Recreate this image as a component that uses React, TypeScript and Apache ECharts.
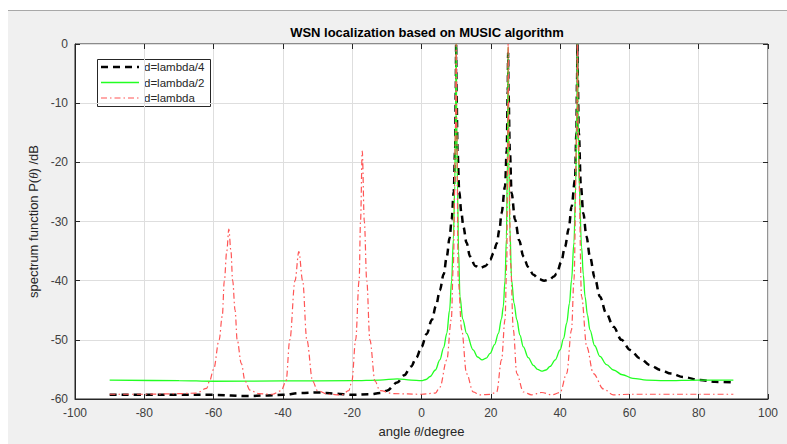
import React, { useEffect, useRef } from "react";
import * as echarts from "echarts";

const titleText = "WSN localization based on MUSIC algorithm";
const seriesNames = ["d=lambda/4", "d=lambda/2", "d=lambda"];
const seriesColors = ["#000000", "#22ff22", "#ff5555"];
const xMin = -100;
const xMax = 100;
const xStep = 20;
const yMin = -60;
const yMax = 0;
const yStep = 10;

// d = lambda/4  [angle, dB]
const lambda4: number[][] = [
  [-90, -59.3], [-80, -59.3], [-70, -59.3], [-60, -59.3], [-50, -59.5], [-45, -59.4],
  [-40, -59.3], [-35, -59.0], [-30, -58.9], [-25, -59.1], [-20, -59.3], [-15, -59.2],
  [-12, -59.0], [-10, -58.6], [-7, -57.2], [-5, -56.0], [-3, -54.5], [-1.5, -53.0],
  [0, -51.2], [1.5, -49.0], [3, -46.6], [4.2, -44.2], [5.3, -41.6], [6.4, -38.9],
  [7.3, -35.9], [8.1, -32.8], [8.7, -29.7], [9.3, -25], [9.7, -18], [9.9, -8], [10, 0],
  [10.1, -8], [10.4, -18], [10.9, -25], [11.5, -28.5], [12.1, -30.9], [13, -33.6],
  [14, -35.9], [15.5, -37.5], [16.9, -37.9], [18.5, -37.5], [19.8, -36.5], [20.8, -35.3],
  [21.7, -33.7], [22.5, -31.4], [23.1, -28.6], [24.1, -24.1], [24.6, -18], [24.9, -8],
  [25, -1.5], [25.1, -8], [25.5, -18], [26, -25.2], [27, -29.7], [28.2, -33.2],
  [29.4, -35.9], [30.8, -37.7], [32.3, -39.0], [33.8, -39.7], [35.4, -40.0], [37, -39.8],
  [38.2, -39.3], [39, -38.8], [40.3, -36.9], [41.4, -34.3], [42.5, -31.2], [43.3, -27.5],
  [44.3, -23], [44.7, -15], [44.9, -6], [45, 0], [45.1, -6], [45.4, -15], [46, -24],
  [46.7, -28.6], [47.6, -32.5], [48.6, -35.9], [50, -39.5], [51.5, -42.7], [53.3, -45.5],
  [55.4, -47.8], [57.7, -50.0], [60.2, -51.7], [63, -53.1], [66, -54.3], [69, -55.1],
  [72, -55.7], [75.6, -56.3], [80.4, -56.8], [84.7, -57.1], [90, -57.2],
];

// d = lambda/2
const lambda2: number[][] = [
  [-90, -56.8], [-70, -56.9], [-60, -57.0], [-40, -56.95], [-20, -56.9], [-12, -56.8],
  [-7, -56.6], [-3, -56.8], [0, -56.9], [1.3, -56.7], [2.5, -56.2], [4, -55.1],
  [5.3, -53.4], [6.4, -51.3], [7.3, -48.9], [8.1, -45], [8.7, -39.9], [9.2, -33],
  [9.6, -24], [9.85, -12], [10, 0], [10.15, -12], [10.4, -25], [10.7, -35], [11.1, -42.7],
  [11.9, -46.5], [13, -48.9], [14.9, -51.7], [16.2, -52.9], [17.5, -53.4], [18.7, -53.1],
  [19.8, -52.3], [21.1, -50.8], [22.2, -48.9], [23.1, -46.4], [23.6, -44.4], [24.1, -40],
  [24.5, -33], [24.8, -20], [25, -0.5], [25.2, -20], [25.5, -31], [26, -39.9],
  [26.7, -43.8], [27.5, -46.6], [28.4, -49.2], [29.4, -51.2], [30.8, -53.0], [32.3, -54.3],
  [33.5, -55.0], [34.7, -55.3], [35.9, -55.1], [37.1, -54.5], [38.6, -53.4], [40, -51.7],
  [41, -49.8], [41.9, -47.2], [42.7, -43.8], [43.3, -39.9], [44, -33.5], [44.5, -24],
  [44.85, -10], [45, 0], [45.15, -10], [45.5, -24], [46.2, -34.3], [46.7, -39],
  [47.2, -42.7], [47.9, -45.8], [48.6, -48.3], [50, -51], [51.5, -52.8], [53.4, -54.2],
  [55.4, -55.1], [58, -55.9], [61, -56.5], [65, -56.8], [70, -56.9], [80, -56.8],
  [90, -56.8],
];

// d = lambda
const lambda1: number[][] = [
  [-90, -59.2], [-80, -59.2], [-70, -59.1], [-65, -59.0], [-62, -58.2], [-61.2, -57],
  [-60, -55], [-58.4, -50], [-57.5, -46], [-56.9, -40], [-56.2, -35], [-55.6, -31.3],
  [-55, -35], [-54.5, -40], [-53.8, -45], [-53.2, -50], [-52, -54], [-50.9, -57],
  [-49.5, -58.5], [-47, -59.1], [-43, -59.2], [-40.5, -58.6], [-39.1, -57], [-38, -50],
  [-36.5, -40], [-35.4, -35.1], [-34.3, -40], [-33.1, -50], [-31.4, -57], [-30, -58.6],
  [-27, -59.2], [-23, -59.3], [-21, -58.6], [-20.1, -57], [-19, -50], [-18, -40],
  [-17.6, -30], [-17.1, -18.1], [-16.5, -30], [-15.8, -40], [-14.9, -50], [-13.4, -57],
  [-12, -58.6], [-8, -59.1], [0, -59.2], [4, -59.0], [5.3, -58], [7.3, -53.4],
  [8.6, -46.6], [9.2, -37.1], [9.8, -15], [10, 0], [10.2, -15], [10.6, -39.9],
  [11.6, -48.3], [13, -55.7], [14.9, -58.8], [16.9, -59.3], [20, -59.2], [21.7, -58.8],
  [23.1, -53.4], [24.1, -46.6], [24.6, -37.1], [24.9, -15], [25, 0], [25.2, -15],
  [25.7, -37], [26.5, -48.3], [27.5, -55.7], [29.4, -58.8], [31.8, -59.3], [34.7, -58.9],
  [37.6, -59.3], [40, -58.9], [41.9, -55.7], [43.3, -48.3], [44, -39.9], [44.8, -15],
  [45, 0], [45.2, -15], [46.2, -42.7], [47.7, -51.2], [49.6, -55.7], [52.5, -58.3],
  [55.4, -59.3], [60, -59.2], [70, -59.2], [80, -59.2], [90, -59.2],
];

const FONT = "'Liberation Sans', Arial, Helvetica, sans-serif";
const lineDashes: (number[] | null)[] = [[7, 5], null, [6, 3, 1.5, 3]];
const lineWidths = [2.5, 1.3, 1.2];

export default function App() {
  const ref = useRef<HTMLDivElement>(null);

  useEffect(() => {
    if (!ref.current) return;
    const chart = echarts.init(ref.current, undefined, { renderer: "svg" });
    const tickStyle = { inside: true, length: 5, lineStyle: { color: "#262626" } };
    const nameRich = {
      i: { fontStyle: "italic", fontFamily: "'Liberation Serif', serif", fontSize: 13, color: "#262626" },
    };

    // legend box drawn with graphic elements
    const lgX = 97;
    const lgY = 59;
    const lgW = 113;
    const lgH = 47;
    const legendChildren: any[] = [
      {
        type: "rect",
        shape: { x: lgX + 0.5, y: lgY + 0.5, width: lgW, height: lgH },
        style: { fill: "#ffffff", stroke: "#262626", lineWidth: 1 },
      },
    ];
    seriesNames.forEach((name, i) => {
      const cy = lgY + 8 + i * 15.5;
      legendChildren.push({
        type: "line",
        shape: { x1: lgX + 4, y1: cy, x2: lgX + 42, y2: cy },
        style: {
          stroke: seriesColors[i],
          lineWidth: lineWidths[i],
          lineDash: lineDashes[i] || undefined,
        },
      });
      legendChildren.push({
        type: "text",
        x: lgX + 47,
        y: cy,
        style: {
          text: name,
          fill: "#262626",
          font: `11.5px ${FONT}`,
          align: "left",
          verticalAlign: "middle",
        },
      });
    });

    const mkSeries = (i: number, data: number[][]) => ({
      name: seriesNames[i],
      type: "line",
      data,
      symbol: "none",
      showSymbol: false,
      smooth: 0.35,
      smoothMonotone: "x",
      lineStyle: { color: seriesColors[i], width: lineWidths[i], type: lineDashes[i] || "solid" },
      itemStyle: { color: seriesColors[i] },
      z: 2 + i,
    });

    chart.setOption({
      animation: false,
      textStyle: { fontFamily: FONT },
      title: {
        text: titleText,
        left: 422,
        top: 21,
        textAlign: "center",
        textStyle: { fontFamily: FONT, fontSize: 13, fontWeight: "bold", color: "#000" },
      },
      grid: {
        left: 75,
        right: 19,
        top: 44,
        bottom: 45,
        show: true,
        backgroundColor: "#ffffff",
        borderColor: "#262626",
        borderWidth: 1,
      },
      xAxis: [
        {
          type: "value",
          min: xMin,
          max: xMax,
          interval: xStep,
          name: "angle {i|θ}/degree",
          nameLocation: "middle",
          nameGap: 26,
          nameTextStyle: { fontFamily: FONT, fontSize: 13, color: "#262626", rich: nameRich },
          axisLine: { show: true, onZero: false, lineStyle: { color: "#262626" } },
          axisTick: tickStyle,
          axisLabel: { fontFamily: FONT, fontSize: 12, color: "#404040", margin: 8 },
          splitLine: { show: true, lineStyle: { color: "#dedede" } },
        },
        {
          type: "value",
          position: "top",
          min: xMin,
          max: xMax,
          interval: xStep,
          axisLine: { show: false, onZero: false },
          axisTick: tickStyle,
          axisLabel: { show: false },
          splitLine: { show: false },
        },
      ],
      yAxis: [
        {
          type: "value",
          min: yMin,
          max: yMax,
          interval: yStep,
          name: "spectrum function P({i|θ}) /dB",
          nameLocation: "middle",
          nameGap: 32,
          nameTextStyle: { fontFamily: FONT, fontSize: 13, color: "#262626", rich: nameRich },
          axisLine: { show: true, onZero: false, lineStyle: { color: "#262626" } },
          axisTick: tickStyle,
          axisLabel: { fontFamily: FONT, fontSize: 12, color: "#404040", margin: 7 },
          splitLine: { show: true, lineStyle: { color: "#dedede" } },
        },
        {
          type: "value",
          position: "right",
          min: yMin,
          max: yMax,
          interval: yStep,
          axisLine: { show: false, onZero: false },
          axisTick: tickStyle,
          axisLabel: { show: false },
          splitLine: { show: false },
        },
      ],
      graphic: [{ type: "group", z: 100, children: legendChildren }],
      series: [mkSeries(0, lambda4), mkSeries(1, lambda2), mkSeries(2, lambda1)],
    });
    return () => chart.dispose();
  }, []);

  return (
    <div style={{ position: "absolute", left: 0, top: 0, width: 787, height: 444, background: "#ffffff", overflow: "hidden" }}>
      <div
        style={{
          position: "absolute",
          left: 8,
          top: 10,
          width: 779,
          height: 434,
          background: "#f0f0f0",
          borderTop: "1px solid #a8a8a8",
          boxSizing: "border-box",
        }}
      />
      <div ref={ref} style={{ position: "absolute", left: 0, top: 0, width: 787, height: 444 }} />
    </div>
  );
}
